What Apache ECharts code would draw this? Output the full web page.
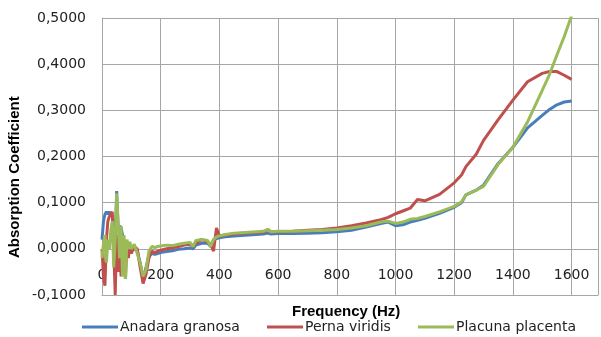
<!DOCTYPE html>
<html>
<head>
<meta charset="utf-8">
<script src="https://cdn.jsdelivr.net/npm/echarts@6/dist/echarts.min.js"></script>
<style>
  html, body { margin: 0; padding: 0; background: #fff; }
  #myChart { width: 601px; height: 337px; }
</style>
</head>
<body>
<div id="myChart"></div>
<script>
  // frequency (Hz) shared by all three samples
  var freq = [0, 5, 10, 15, 20, 25, 30, 35, 40, 45, 50, 55, 60, 65, 70, 75, 80, 85, 90, 95,
    100, 110, 120, 130, 140, 150, 160, 170, 180, 190, 200, 220, 240, 260, 280, 300, 310, 320,
    340, 360, 370, 380, 390, 400, 420, 450, 500, 550, 565, 575, 600, 650, 700, 750, 800, 850,
    900, 950, 975, 1000, 1025, 1050, 1075, 1100, 1150, 1200, 1225, 1240, 1275, 1300, 1350,
    1400, 1450, 1500, 1525, 1550, 1575, 1600];

  var anadara = [0.02, 0.06, 0.075, 0.08, 0.075, 0.08, 0.083, 0.07, 0.05, 0.02, 0.125, 0.04, 0.05, 0.045, 0.03, 0.02, 0.01, 0.01, 0.005, 0.0,
    0.005, 0.0, -0.005, -0.03, -0.065, -0.04, -0.015, -0.01, -0.012, -0.01, -0.008, -0.006, -0.004, -0.001, 0.0, 0.002, 0.0, 0.008,
    0.012, 0.012, 0.005, 0.02, 0.022, 0.024, 0.026, 0.028, 0.03, 0.032, 0.034, 0.032, 0.033, 0.033, 0.034, 0.035, 0.037, 0.04,
    0.047, 0.055, 0.058, 0.05, 0.052, 0.058, 0.062, 0.066, 0.077, 0.09, 0.1, 0.117, 0.127, 0.138, 0.185,
    0.22, 0.262, 0.289, 0.302, 0.312, 0.318, 0.32];

  var perna = [0.0, -0.06, -0.08, 0.02, 0.06, 0.07, 0.075, 0.08, 0.0, -0.1, 0.03, -0.05, 0.02, -0.06, 0.01, -0.04, -0.065, 0.015, -0.02, 0.01,
    -0.01, 0.005, 0.0, -0.04, -0.075, -0.055, -0.02, -0.005, -0.008, -0.005, -0.003, 0.0, 0.002, 0.005, 0.008, 0.01, 0.005, 0.012,
    0.02, 0.015, 0.01, -0.005, 0.045, 0.028, 0.03, 0.032, 0.035, 0.036, 0.042, 0.037, 0.037, 0.038, 0.04, 0.042, 0.045, 0.05,
    0.056, 0.063, 0.068, 0.076, 0.082, 0.088, 0.107, 0.104, 0.118, 0.143, 0.16, 0.178, 0.205, 0.235, 0.28,
    0.322, 0.362, 0.38, 0.384, 0.384, 0.376, 0.367];

  var placuna = [-0.02, 0.01, 0.03, -0.03, 0.02, 0.0, 0.04, 0.06, -0.04, 0.02, 0.12, 0.06, -0.02, 0.05, -0.06, 0.03, -0.065, 0.02, 0.0, 0.015,
    0.0, 0.01, -0.01, -0.03, -0.06, -0.045, -0.005, 0.005, 0.003, 0.005, 0.006, 0.008, 0.007, 0.01, 0.012, 0.014, 0.005, 0.018,
    0.02, 0.018, 0.005, 0.02, 0.026, 0.028, 0.031, 0.034, 0.036, 0.038, 0.042, 0.037, 0.038, 0.038, 0.039, 0.04, 0.042, 0.045,
    0.05, 0.058, 0.06, 0.055, 0.058, 0.064, 0.066, 0.07, 0.08, 0.092, 0.102, 0.117, 0.127, 0.135, 0.183,
    0.22, 0.275, 0.343, 0.378, 0.42, 0.46, 0.505];

  var seriesNames = ['Anadara granosa', 'Perna viridis', 'Placuna placenta'];
  var colors = ['#4a7ebb', '#c0504d', '#9bbb59'];

  function pairs(vals) {
    return freq.map(function (f, i) { return [f, vals[i]]; });
  }

  var myChart = echarts.init(document.getElementById('myChart'));
  var font = 'DejaVu Sans';

  function legendFor(name, left) {
    return {
      data: [name], left: left, top: 315,
      icon: 'rect', itemWidth: 36, itemHeight: 3,
      textStyle: { fontFamily: font, fontSize: 14, color: '#222', padding: [0, 0, 0, -3] }
    };
  }

  myChart.setOption({
    animation: false,
    color: colors,
    // plot runs past the right edge in the original; 1690 is where the picture is cut
    grid: { left: 102, top: 18, right: 0, height: 277 },
    legend: [legendFor(seriesNames[0], 77), legendFor(seriesNames[1], 262), legendFor(seriesNames[2], 413)],
    graphic: [
      {
        type: 'text', left: 292, top: 304,
        style: { text: 'Frequency (Hz)', font: 'bold 15px "Liberation Sans"', fill: '#000' }
      },
      {
        type: 'text', rotation: Math.PI / 2, x: 15, y: 258,
        style: { text: 'Absorption Coefficient', font: 'bold 15px "Liberation Sans"', fill: '#000', textVerticalAlign: 'middle' }
      }
    ],
    xAxis: {
      type: 'value', min: 0, max: 1690, interval: 200,
      // labels sit just under the zero line, like the original
      axisLine: { onZero: false, lineStyle: { color: '#a6a6a6' } },
      axisTick: { show: false },
      axisLabel: {
        margin: -27, fontFamily: font, fontSize: 14, color: '#222',
        formatter: function (v) { return v > 1600 ? '' : v; }
      },
      splitLine: { lineStyle: { color: '#a6a6a6' } }
    },
    yAxis: {
      type: 'value', min: -0.1, max: 0.5, interval: 0.1,
      axisLine: { show: true, lineStyle: { color: '#a6a6a6' } },
      axisTick: { show: false },
      axisLabel: {
        margin: 16, fontFamily: font, fontSize: 14, color: '#222',
        formatter: function (v) { return v.toFixed(4).replace('.', ','); }
      },
      splitLine: { lineStyle: { color: '#a6a6a6' } }
    },
    series: [
      { name: seriesNames[0], type: 'line', showSymbol: false, data: pairs(anadara), lineStyle: { width: 3 } },
      { name: seriesNames[1], type: 'line', showSymbol: false, data: pairs(perna), lineStyle: { width: 3 } },
      { name: seriesNames[2], type: 'line', showSymbol: false, data: pairs(placuna), lineStyle: { width: 3 } }
    ]
  });
</script>
</body>
</html>
